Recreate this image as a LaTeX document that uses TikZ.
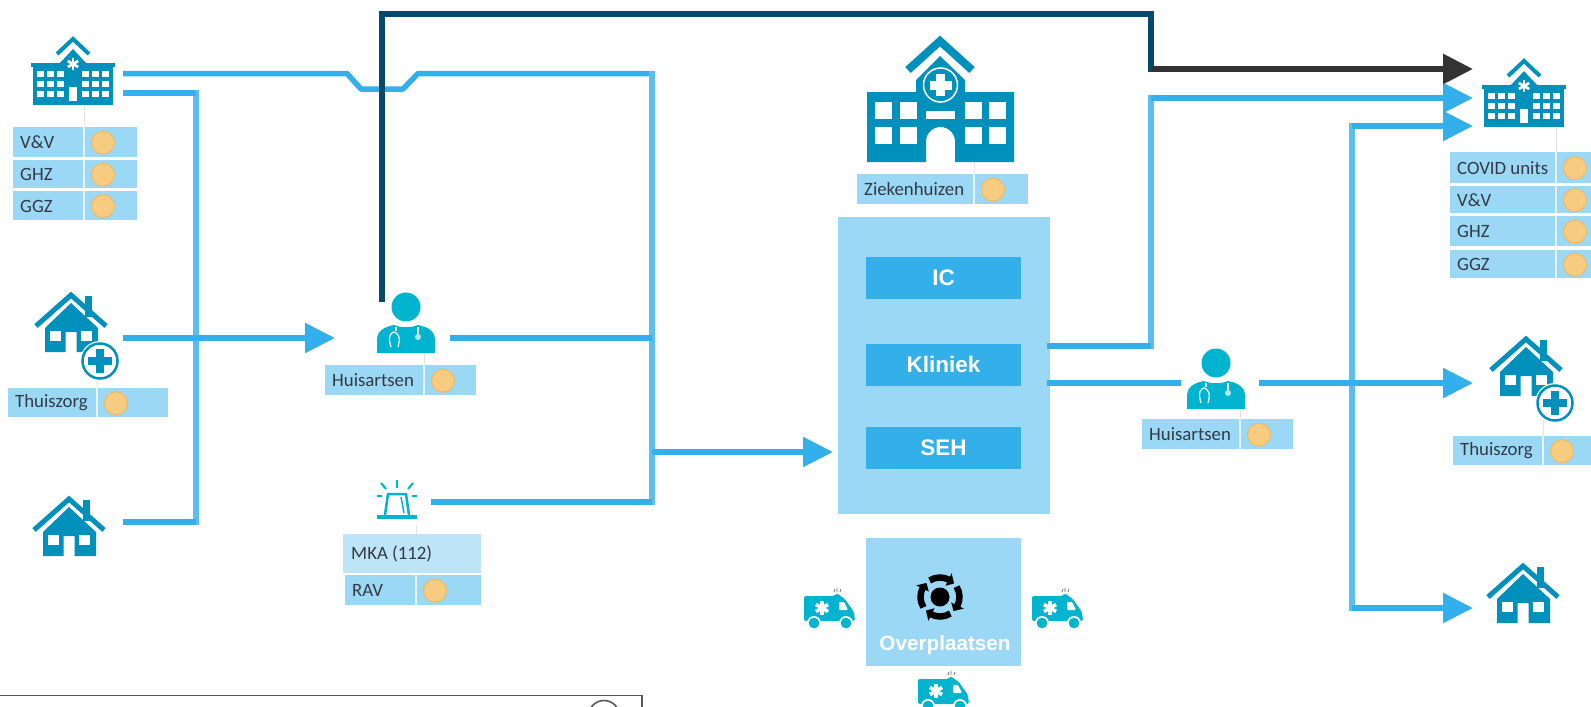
\documentclass[tikz,border=0pt]{standalone}
\usepackage{fontspec}
\setmainfont{Carlito}
\newfontfamily\boldsans{Liberation Sans}[BoldFont={Liberation Sans Bold}]
\usetikzlibrary{arrows.meta}
\definecolor{flow}{HTML}{33B0EB}
\definecolor{flowv}{HTML}{5CBEEF}
\definecolor{navy}{HTML}{044A6C}
\definecolor{graph}{HTML}{333333}
\definecolor{pale}{HTML}{9BD8F5}
\definecolor{paler}{HTML}{BEE5F7}
\definecolor{unit}{HTML}{33AFEA}
\definecolor{icon}{HTML}{0090BC}
\definecolor{cyanic}{HTML}{00B4D0}
\definecolor{dotf}{HTML}{F7CB80}
\definecolor{dotd}{HTML}{F2B85E}
\definecolor{labeltext}{HTML}{333A45}
\tikzset{
  x=1pt,y=-1pt,
  flowline/.style={draw=flow,line width=5.5pt},
  flowvert/.style={draw=flowv,line width=5.5pt,line cap=rect},
  navyline/.style={draw=navy,line width=6pt,line cap=rect},
  tipped/.style={-{Triangle[length=30pt,width=29pt]}},
  tablecell/.style={fill=pale},
  tabletext/.style={anchor=west,inner sep=0pt,font=\fontsize{18.8}{20}\selectfont,text=labeltext},
  unitbox/.style={fill=unit,minimum width=155pt,minimum height=42pt,inner sep=0pt,text=white,font=\boldsans\bfseries\fontsize{22.5}{24}\selectfont},
  dotmark/.style={circle,fill=dotf,draw=dotd,line width=1pt,minimum size=23pt,inner sep=0pt},
  stub/.style={draw=black!10,line width=0.8pt},
  pics/smallhosp/.style={code={
    \draw[icon,line width=4pt,line join=miter] (-16,17)--(0,2)--(16,17);
    \fill[icon] (-13,26)--(0,12)--(13,26)--cycle;
    \fill[icon] (-42,26) rectangle (42,30);
    \fill[icon] (-40,30) rectangle (40,68);
    \foreach \a in {0,60,120}{\draw[white,line width=2.6pt,rotate around={\a:(0,27)}] (0,21)--(0,33);}
    \foreach \yy in {34,44,54}{\foreach \xx in {-36,-26,-16,9,19,29}{\fill[white] (\xx,\yy) rectangle ++(7,6);}}
    \fill[white] (-4,50) rectangle (4,64);
  }},
  pics/house/.style={code={
    \fill[icon] (14,5) rectangle (21,26);
    \draw[icon,line width=5pt,line join=miter] (-35,35)--(0,4)--(35,35);
    \fill[icon] (0,12)--(27,37)--(27,61)--(5.5,61)--(5.5,41)--(-5.5,41)--(-5.5,61)--(-26,61)--(-26,37)--cycle;
    \fill[white] (-21,40) rectangle (-10,50);
    \fill[white] (10,40) rectangle (21,50);
  }},
  pics/pluscirc/.style={code={
    \fill[white] (0,0) circle (20);
    \draw[icon,line width=2.5pt] (0,0) circle (17.5);
    \fill[icon] (-4,-12) rectangle (4,12);
    \fill[icon] (-12,-4) rectangle (12,4);
  }},
  pics/doctor/.style={code={
    \fill[cyanic] (0,0) circle (14.5);
    \fill[cyanic] (-29,46)--(-29,33) .. controls (-29,24) and (-22,20) .. (-12,18) .. controls (-5,21) and (5,21) .. (12,18) .. controls (22,20) and (29,24) .. (29,33)--(29,46)--cycle;
    \draw[white,line width=1.2pt] (-10,20)--(-10,24);
    \draw[white,line width=1.2pt] (-15,40) .. controls (-18,30) and (-16,26) .. (-12,25) .. controls (-8,26) and (-5,30) .. (-8,40);
    \draw[white,line width=1.2pt] (12,20)--(12,27);
    \fill[white!70!cyanic] (12,30) circle (3);
  }},
  pics/amb/.style={code={
    \fill[cyanic,rounded corners=2pt] (0,6)--(31,6)--(33,3)--(36,6)--(40,8)--(50,22)--(51,31)--(0,31)--cycle;
    \fill[white] (10,33) circle (7);
    \fill[white] (42,33) circle (7);
    \fill[cyanic] (10,33) circle (5.3);
    \fill[cyanic] (42,33) circle (5.3);
    \foreach \a in {0,60,120}{\draw[white,line width=3.6pt,rotate around={\a:(18,18)}] (18,11)--(18,25);}
    \fill[white,rounded corners=1pt] (35,12)--(40,12)--(44,20)--(35,20)--cycle;
    \draw[black!60,line width=0.7pt] (30,2)--(31,-1) (33,2)--(33,-2) (36,2)--(37,-1);
  }},
}
\begin{document}
\begin{tikzpicture}
\useasboundingbox (0,0) rectangle (1591,707);
\fill[white] (0,0) rectangle (1591,707);

% anchors of connectors
\coordinate (hospLa) at (123,73.5);
\coordinate (hospLb) at (123,93);
\coordinate (j1) at (347,73.5);
\coordinate (j2) at (361,89);
\coordinate (j3) at (403,89);
\coordinate (j4) at (418,73.5);
\coordinate (busL) at (652,73.5);
\coordinate (busLb) at (652,502);
\coordinate (busLarrow) at (652,452);
\coordinate (colL) at (196,93);
\coordinate (colLb) at (196,522);
\coordinate (thuisL) at (123,338);
\coordinate (docLin) at (335,338);
\coordinate (docLout) at (450,338);
\coordinate (busLdoc) at (652,338);
\coordinate (houseL) at (123,522);
\coordinate (sirenOut) at (431,502);
\coordinate (mainIn) at (833,452);
\coordinate (docLup) at (382,299);
\coordinate (navy1) at (382,14);
\coordinate (navy2) at (1151,14);
\coordinate (navy3) at (1151,69);
\coordinate (tipA) at (1473,69);
\coordinate (klin1) at (1047,346);
\coordinate (klin2) at (1151,346);
\coordinate (klin3) at (1151,98);
\coordinate (tipB) at (1473,98);
\coordinate (klin4) at (1047,383);
\coordinate (docRin) at (1181,383);
\coordinate (docRout) at (1259,383);
\coordinate (tipC) at (1473,383);
\coordinate (colRt) at (1352,126);
\coordinate (tipD) at (1473,126);
\coordinate (colRb) at (1352,608);
\coordinate (tipE) at (1473,608);

% main boxes
\fill[pale] (838,217) rectangle (1050,514);
\fill[pale] (866,538) rectangle (1021,666);
\node[unitbox] (ic) at (943.5,278) {IC};
\node[unitbox] (kliniek) at (943.5,364.5) {Kliniek};
\node[unitbox] (seh) at (943.5,448) {SEH};
\node[inner sep=0pt,text=white,font=\boldsans\bfseries\fontsize{20.7}{24}\selectfont] (overpl) at (945,645) {Overplaatsen};

% stubs
\draw[stub] (84,105)--(84,127);
\draw[stub] (97,378)--(97,388);
\draw[stub] (424,353)--(424,365);
\draw[stub] (416,525)--(416,534);
\draw[stub] (974,162)--(974,174);
\draw[stub] (1240,410)--(1240,419);
\draw[stub] (1543,420)--(1543,436);
\draw[stub] (1556,128)--(1556,152);

% tables
\newcommand{\tablerow}[7]{% x1,y1,x2,y2,sep,text,dot x
  \fill[tablecell] (#1,#2) rectangle (#3,#4);
  \draw[white!75!pale,line width=1.5pt] (#5,#2)--(#5,#4);
  \node[tabletext] at ({#1+7},{(#2+#4)/2+0.5}) {#6};
  \node[dotmark] at (#7,{(#2+#4)/2+0.7}) {};
}
\tablerow{13}{127}{137}{157}{84}{V\&V}{103}
\tablerow{13}{160}{137}{188}{84}{GHZ}{103}
\tablerow{13}{191}{137}{220}{84}{GGZ}{103}
\tablerow{8}{388}{168}{417}{97}{Thuiszorg}{116}
\tablerow{325}{365}{476}{395}{424}{Huisartsen}{443}
\fill[paler] (343,534) rectangle (481,573);
\node[tabletext] (mka) at (351,554) {MKA (112)};
\tablerow{345}{575}{481}{605}{416}{RAV}{435}
\tablerow{857}{174}{1028}{204}{974}{Ziekenhuizen}{993}
\tablerow{1142}{419}{1293}{449}{1240}{Huisartsen}{1259}
\tablerow{1453}{436}{1591}{465}{1543}{Thuiszorg}{1562}
\tablerow{1450}{152}{1591}{183}{1556}{COVID units}{1575}
\tablerow{1450}{186}{1591}{213}{1556}{V\&V}{1575}
\tablerow{1450}{216}{1591}{246}{1556}{GHZ}{1575}
\tablerow{1450}{250}{1591}{278}{1556}{GGZ}{1575}

% connectors
\draw[flowvert] (colL)--(colLb);
\draw[flowline] (hospLb)--(colL);
\draw[flowline] (houseL)--(colLb);
\draw[flowline,line join=round] (hospLa)--(j1)--(j2)--(j3)--(j4)--(busL);
\draw[flowvert] (busL)--(busLb);
\draw[flowline] (docLout)--(busLdoc);
\draw[flowline] (sirenOut)--(busLb);
\draw[flowline,tipped] (thuisL)--(docLin);
\draw[flowline,tipped] (busLarrow)--(mainIn);
\draw[flowvert] (klin2)--(klin3);
\draw[flowline] (klin1)--(klin2);
\draw[flowline,tipped] (klin3)--(tipB);
\draw[flowline] (klin4)--(docRin);
\draw[flowvert] (colRt)--(colRb);
\draw[flowline,tipped] (docRout)--(tipC);
\draw[flowline,tipped] (colRt)--(tipD);
\draw[flowline,tipped] (colRb)--(tipE);
\draw[navyline,line join=miter] (docLup)--(navy1)--(navy2)--(navy3);
\draw[draw=graph,line width=6pt,tipped] (navy3)--(tipA);

% icons
\pic at (73,37) {smallhosp};
\pic at (1524,59) {smallhosp};
\pic at (71,291) {house};
\pic at (100,361) {pluscirc};
\pic at (69,495) {house};
\pic at (1526,335) {house};
\pic at (1555,403) {pluscirc};
\pic at (1523,562) {house};
\pic at (406,307) {doctor};
\pic at (1216,363) {doctor};

% large hospital
\draw[icon,line width=8pt,line join=miter] (908,70)--(940,41)--(972,70);
\fill[icon] (916,80)--(940,56)--(965,80)--(965,92)--(1014,92)--(1014,162)--(955,162)--(955,141.5) arc (0:-180:14.5)--(926,162)--(867,162)--(867,92)--(916,92)--cycle;
\draw[white,line width=1.5pt] (940.5,85) circle (17);
\fill[white] (936,74) rectangle (945,96);
\fill[white] (929.5,80.5) rectangle (951.5,89.5);
\foreach \xx in {875,900,965,989}{\foreach \yy in {102,127}{\fill[white] (\xx,\yy) rectangle ++(17,17);}}
\fill[white] (926,111) rectangle (955,119);

% siren
\fill[cyanic] (377,515) rectangle (417,519);
\draw[cyanic,line width=2.5pt,line join=round] (385,515)--(388,494)--(406,494)--(409,515);
\draw[cyanic,line width=1.5pt] (401,497)--(404,513);
\draw[cyanic,line width=2pt] (397,480)--(397,488) (381,483)--(386,489) (413,483)--(408,489) (377,496)--(382,496) (412,496)--(417,496);

% ambulances
\pic at (804,590) {amb};
\pic at (1032,590) {amb};
\begin{scope}
\clip (0,0) rectangle (1591,707);
\pic at (918,673) {amb};
\end{scope}

% rotate icon
\begin{scope}[shift={(940,597)}]
\fill[black] (0,0) circle (9.5);
\foreach \a in {-90,0,90,180}{
  \draw[black,line width=6.5pt] ({\a-32}:19.5) arc ({\a-32}:{\a+28}:19.5);
  \fill[black] ({\a+26}:12.5)--({\a+26}:26.5)--({\a+46}:19.5)--cycle;
}
\end{scope}

% legend box (cut off by the lower edge)
\draw[black!65,line width=1.6pt] (-2,695.5)--(642,695.5)--(642,710);
\draw[black!65,line width=1.6pt] (604,716) circle (15.5);
\end{tikzpicture}
\end{document}
